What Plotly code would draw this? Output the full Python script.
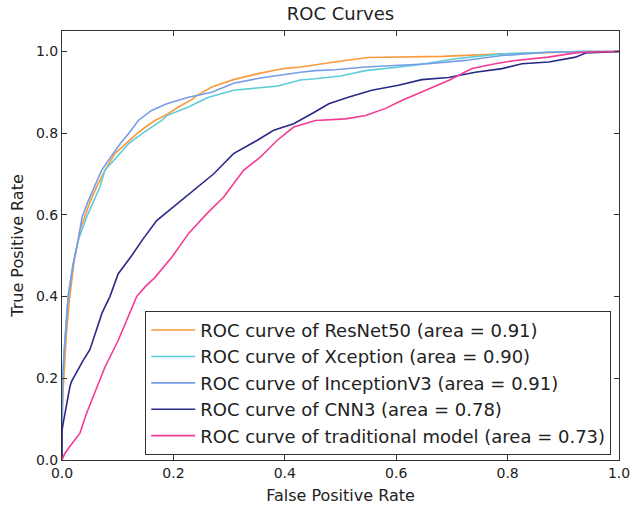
import plotly.graph_objects as go

# ---- data ----
resnet_fpr = [0, 0, 0.002, 0.004, 0.008, 0.014, 0.022, 0.032, 0.040, 0.050, 0.062, 0.077, 0.095, 0.115, 0.134, 0.150, 0.167, 0.190, 0.209, 0.233, 0.242, 0.269, 0.308, 0.350, 0.398, 0.428, 0.455, 0.508, 0.550, 0.683, 0.790, 0.873, 0.950, 1.0]
resnet_tpr = [0, 0.10, 0.17, 0.22, 0.31, 0.40, 0.488, 0.562, 0.594, 0.63, 0.668, 0.709, 0.75, 0.775, 0.798, 0.815, 0.831, 0.847, 0.864, 0.882, 0.892, 0.913, 0.931, 0.945, 0.958, 0.962, 0.968, 0.978, 0.985, 0.988, 0.994, 0.998, 1.0, 1.0]

xception_fpr = [0, 0, 0.001, 0.004, 0.011, 0.020, 0.029, 0.044, 0.055, 0.068, 0.077, 0.104, 0.120, 0.143, 0.179, 0.188, 0.227, 0.263, 0.308, 0.386, 0.428, 0.455, 0.500, 0.545, 0.634, 0.706, 0.790, 0.873, 0.930, 1.0]
xception_tpr = [0, 0.15, 0.195, 0.268, 0.40, 0.48, 0.537, 0.594, 0.63, 0.668, 0.709, 0.75, 0.775, 0.798, 0.831, 0.843, 0.864, 0.888, 0.905, 0.915, 0.930, 0.933, 0.940, 0.953, 0.966, 0.982, 0.994, 0.998, 1.0, 1.0]

inception_fpr = [0, 0, 0.001, 0.004, 0.011, 0.020, 0.029, 0.036, 0.046, 0.058, 0.071, 0.092, 0.105, 0.119, 0.137, 0.160, 0.188, 0.227, 0.242, 0.269, 0.308, 0.356, 0.428, 0.455, 0.490, 0.545, 0.658, 0.724, 0.790, 0.873, 0.930, 1.0]
inception_tpr = [0, 0.12, 0.195, 0.268, 0.40, 0.48, 0.537, 0.594, 0.63, 0.668, 0.709, 0.75, 0.775, 0.798, 0.831, 0.855, 0.872, 0.888, 0.892, 0.900, 0.922, 0.935, 0.949, 0.953, 0.955, 0.962, 0.970, 0.978, 0.990, 0.998, 1.0, 1.0]

cnn3_fpr = [0, 0, 0.002, 0.005, 0.008, 0.014, 0.017, 0.028, 0.038, 0.050, 0.062, 0.072, 0.086, 0.101, 0.125, 0.145, 0.170, 0.206, 0.242, 0.272, 0.308, 0.350, 0.380, 0.416, 0.453, 0.479, 0.514, 0.556, 0.604, 0.646, 0.694, 0.742, 0.790, 0.826, 0.874, 0.922, 0.940, 1.0]
cnn3_tpr = [0, 0.072, 0.089, 0.114, 0.138, 0.178, 0.192, 0.22, 0.244, 0.27, 0.317, 0.36, 0.40, 0.456, 0.50, 0.54, 0.586, 0.627, 0.668, 0.70, 0.75, 0.782, 0.807, 0.823, 0.851, 0.872, 0.888, 0.905, 0.917, 0.931, 0.936, 0.949, 0.958, 0.970, 0.974, 0.986, 0.996, 1.0]

trad_fpr = [0, 0.005, 0.015, 0.023, 0.032, 0.044, 0.062, 0.077, 0.101, 0.119, 0.134, 0.150, 0.167, 0.197, 0.227, 0.260, 0.290, 0.326, 0.356, 0.386, 0.416, 0.455, 0.509, 0.545, 0.580, 0.610, 0.652, 0.694, 0.736, 0.778, 0.814, 0.873, 0.910, 0.935, 0.990, 1.0]
trad_tpr = [0, 0.016, 0.035, 0.048, 0.065, 0.114, 0.178, 0.227, 0.293, 0.35, 0.40, 0.425, 0.447, 0.496, 0.554, 0.603, 0.643, 0.709, 0.741, 0.782, 0.815, 0.831, 0.835, 0.843, 0.86, 0.88, 0.905, 0.929, 0.958, 0.970, 0.978, 0.986, 0.994, 0.998, 1.0, 1.0]

names = ["ROC curve of ResNet50 (area = 0.91)",
         "ROC curve of Xception (area = 0.90)",
         "ROC curve of InceptionV3 (area = 0.91)",
         "ROC curve of CNN3 (area = 0.78)",
         "ROC curve of traditional model (area = 0.73)"]
colors = ["#F99A3E", "#5ECCD9", "#779DE8", "#2A2A88", "#F43B93"]

tick_vals = [0.0, 0.2, 0.4, 0.6, 0.8, 1.0]
tick_text = ["0.0", "0.2", "0.4", "0.6", "0.8", "1.0"]

series = [(resnet_fpr, resnet_tpr), (xception_fpr, xception_tpr),
          (inception_fpr, inception_tpr), (cnn3_fpr, cnn3_tpr), (trad_fpr, trad_tpr)]

fig = go.Figure()
for (xs, ys), name, col in zip(series, names, colors):
    fig.add_trace(go.Scatter(x=xs, y=ys, mode="lines", name=name,
                             line=dict(color=col, width=1.6)))

font = "DejaVu Sans, sans-serif"
txt = "#222222"
axis_common = dict(showline=True, linecolor="#333333", linewidth=1, mirror="allticks",
                   ticks="inside", ticklen=5, tickcolor="#333333", showgrid=False,
                   zeroline=False, tickfont=dict(family=font, size=14, color=txt),
                   tickvals=tick_vals, ticktext=tick_text, automargin=False,
                   ticklabeloverflow="allow")

fig.update_layout(
    width=630, height=505,
    paper_bgcolor="white", plot_bgcolor="white",
    margin=dict(l=62, r=11, t=31, b=45),
    title=dict(text="ROC Curves", x=0.5, xref="paper", xanchor="center",
               y=0.972, yref="container", yanchor="middle",
               font=dict(family=font, size=18, color=txt)),
    xaxis=dict(range=[0, 1.0], title=dict(text="False Positive Rate", standoff=10,
               font=dict(family=font, size=16, color=txt)), **axis_common),
    yaxis=dict(range=[0, 1.05], title=dict(text="True Positive Rate", standoff=8,
               font=dict(family=font, size=16, color=txt)), **axis_common),
    legend=dict(x=0.986, xanchor="right", y=0.012, yanchor="bottom",
                bgcolor="white", bordercolor="#333333", borderwidth=1,
                font=dict(family=font, size=18, color=txt), itemwidth=44),
    showlegend=True,
)

fig.write_html("out.html", config={"displayModeBar": False},
               post_script="document.body.style.margin='0';document.body.style.overflow='hidden';")
